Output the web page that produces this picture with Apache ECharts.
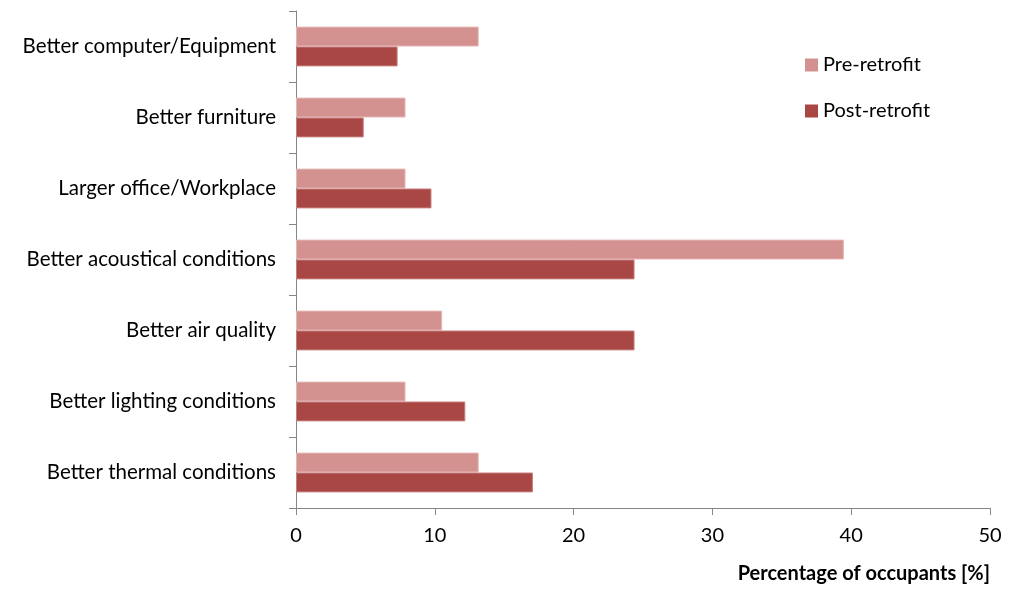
<!DOCTYPE html>
<html>
<head>
<meta charset="utf-8">
<script src="https://cdn.jsdelivr.net/npm/echarts@6/dist/echarts.min.js"></script>
<style>
  html, body { margin: 0; padding: 0; background: #fff; }
  #chart { width: 1015px; height: 589px; }
</style>
</head>
<body>
<div id="chart"></div>
<script>
var categories = [
  'Better computer/Equipment',
  'Better furniture',
  'Larger office/Workplace',
  'Better acoustical conditions',
  'Better air quality',
  'Better lighting conditions',
  'Better thermal conditions'
];
var preRetrofit = [13.16, 7.89, 7.89, 39.47, 10.53, 7.89, 13.16];
var postRetrofit = [7.32, 4.88, 9.76, 24.39, 24.39, 12.20, 17.07];
var xTicks = [0, 10, 20, 30, 40, 50];

var font = 'Lato, "Open Sans", sans-serif';
var axisColor = '#868686';

var chart = echarts.init(document.getElementById('chart'));
var option = {
  animation: false,
  textStyle: { fontFamily: font },
  grid: { left: 296, right: 25, top: 11, bottom: 81 },
  legend: {
    orient: 'vertical',
    left: 800,
    top: 50,
    itemWidth: 13,
    itemHeight: 13,
    itemGap: 26,
    icon: 'rect',
    itemStyle: { borderWidth: 0 },
    textStyle: { fontSize: 20, color: '#000', fontFamily: font },
    data: ['Pre-retrofit', 'Post-retrofit']
  },
  xAxis: {
    type: 'value',
    min: xTicks[0],
    max: xTicks[xTicks.length - 1],
    interval: 10,
    name: 'Percentage of occupants [%]',
    nameLocation: 'end',
    nameGap: 0,
    nameTextStyle: {
      fontSize: 20, fontWeight: 'bold', color: '#000',
      align: 'right', verticalAlign: 'top', padding: [56, 0, 0, 0]
    },
    axisLine: { show: true, lineStyle: { color: axisColor, width: 1 } },
    axisTick: { show: true, length: 7, lineStyle: { color: axisColor } },
    axisLabel: { fontSize: 20, color: '#000', margin: 18 },
    splitLine: { show: false }
  },
  yAxis: {
    type: 'category',
    inverse: true,
    data: categories,
    axisLine: { show: true, lineStyle: { color: axisColor, width: 1 } },
    axisTick: { show: true, length: 7, lineStyle: { color: axisColor } },
    axisLabel: { fontSize: 20.5, color: '#000', margin: 20 }
  },
  series: [
    {
      name: 'Pre-retrofit',
      type: 'bar',
      data: preRetrofit,
      barGap: '0%',
      barCategoryGap: '44%',
      itemStyle: { color: '#D39190', borderColor: '#E4B5B4', borderWidth: 1 }
    },
    {
      name: 'Post-retrofit',
      type: 'bar',
      data: postRetrofit,
      barGap: '0%',
      barCategoryGap: '44%',
      itemStyle: { color: '#A94744', borderColor: '#C57F7D', borderWidth: 1 }
    }
  ]
};
chart.setOption(option);
</script>
</body>
</html>
